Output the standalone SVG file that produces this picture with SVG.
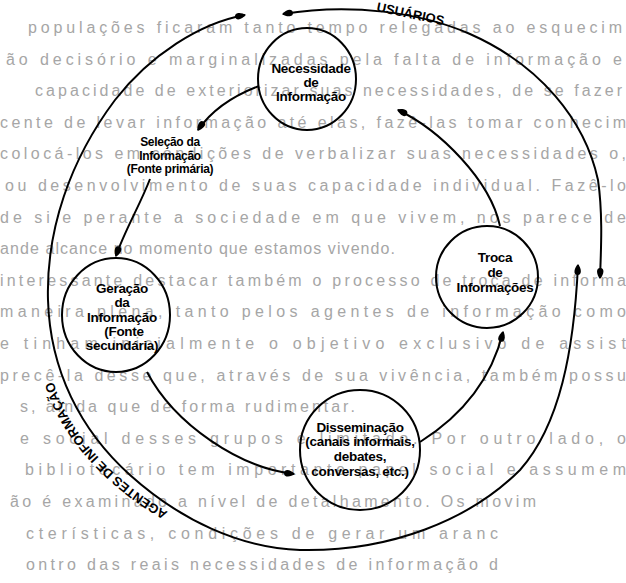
<svg xmlns="http://www.w3.org/2000/svg" width="626" height="583" viewBox="0 0 626 583">
<style>
.bg{font-family:"Liberation Sans",Arial,sans-serif;font-size:16px;fill:#a6a6a6}
.lbl{font-family:"Liberation Sans",Arial,sans-serif;font-size:13.5px;font-weight:bold;fill:#000;text-anchor:middle;letter-spacing:-0.3px}
.sm{font-size:12px}
.big{font-family:"Liberation Sans",Arial,sans-serif;font-size:13px;font-weight:bold;fill:#000}
.c{fill:none;stroke:#000;stroke-width:2}
.ln{fill:none;stroke:#000;stroke-width:2}
</style>
<defs>
<marker id="ah" viewBox="0 0 12 10" refX="11" refY="5" markerWidth="12" markerHeight="10" markerUnits="userSpaceOnUse" orient="auto-start-reverse"><path d="M12,5 C8,1.5 1,0 1,5 C1,10 8,8.5 12,5 Z" fill="#000"/></marker>
<path id="agPath" d="M168,512 C120,485 75,440 58,395 C48,368 44,350 44,330"/>
</defs>
<rect width="626" height="583" fill="#fff"/>
<g id="background-text">
<text class="bg" x="28" y="33" textLength="594" lengthAdjust="spacing">populações ficaram tanto tempo relegadas ao esquecim</text>
<text class="bg" x="6" y="65" textLength="616" lengthAdjust="spacing">ão decisório e marginalizadas pela falta de informação e</text>
<text class="bg" x="35" y="96" textLength="587" lengthAdjust="spacing">capacidade de exteriorizar suas necessidades, de se fazer</text>
<text class="bg" x="0" y="128" textLength="626" lengthAdjust="spacing">cente de levar informação até elas, fazê-las tomar conhecim</text>
<text class="bg" x="0" y="159" textLength="626" lengthAdjust="spacing">colocá-los em condições de verbalizar suas necessidades o,</text>
<text class="bg" x="5" y="191" textLength="621" lengthAdjust="spacing">ou desenvolvimento de suas capacidade individual. Fazê-lo</text>
<text class="bg" x="0" y="223" textLength="626" lengthAdjust="spacing">de si e perante a sociedade em que vivem, nos parece de</text>
<text class="bg" x="0" y="254" textLength="395" lengthAdjust="spacing">ande alcance no momento que estamos vivendo.</text>
<text class="bg" x="0" y="286" textLength="626" lengthAdjust="spacing">interessante destacar também o processo de troca de informa</text>
<text class="bg" x="0" y="317" textLength="626" lengthAdjust="spacing">maneira plena, tanto pelos agentes de informação como</text>
<text class="bg" x="0" y="349" textLength="626" lengthAdjust="spacing">e tinham inicialmente o objetivo exclusivo de assist</text>
<text class="bg" x="0" y="381" textLength="626" lengthAdjust="spacing">precê-la desse que, através de sua vivência, também possu</text>
<text class="bg" x="20" y="412" textLength="335" lengthAdjust="spacing">s, ainda que de forma rudimentar.</text>
<text class="bg" x="20" y="444" textLength="606" lengthAdjust="spacing">e social desses grupos é limitado. Por outro lado, o</text>
<text class="bg" x="25" y="475" textLength="601" lengthAdjust="spacing">bibliotecário tem importante papel social e assumem</text>
<text class="bg" x="10" y="507" textLength="526" lengthAdjust="spacing">ão é examinado a nível de detalhamento. Os movim</text>
<text class="bg" x="26" y="539" textLength="472" lengthAdjust="spacing">cterísticas, condições de gerar um aranc</text>
<text class="bg" x="26" y="570" textLength="472" lengthAdjust="spacing">ontro das reais necessidades de informação d</text>
</g>
<g id="connectors">
<path class="ln" d="M283,14 C350,3 420,12 470,34 C540,65 585,120 598,180 C603,215 601,250 600,278" marker-start="url(#ah)" marker-end="url(#ah)"/>
<path class="ln" d="M245,15 C200,23 150,55 115,100 C70,160 46,230 48,300 C50,370 80,430 130,475 C180,520 240,548 300,550 C390,552 470,520 520,470 C560,425 574,350 578,265" marker-start="url(#ah)" marker-end="url(#ah)"/>
<path class="ln" d="M259,86 C235,95 212,110 198,130" marker-end="url(#ah)"/>
<path class="ln" d="M150,179 C140,205 124,232 116,256" marker-end="url(#ah)"/>
<path class="ln" d="M147,372 C175,425 240,468 294,474" marker-end="url(#ah)"/>
<path class="ln" d="M420,442 C455,420 490,385 503,332" marker-end="url(#ah)"/>
<path class="ln" d="M500,226 C490,180 440,130 398,110" marker-end="url(#ah)"/>
</g>
<g id="usuarios-label"><text class="big" font-size="12.5" transform="translate(376,11) rotate(12)">USUÁRIOS</text></g>
<g id="agentes-label"><text class="big"><textPath href="#agPath">AGENTES DE INFORMAÇÃO</textPath></text></g>
<g id="necessidade">
<ellipse class="c" cx="307" cy="79" rx="49" ry="51"/>
<text class="lbl" x="311" y="73">Necessidade</text>
<text class="lbl" x="311" y="87">de</text>
<text class="lbl" x="311" y="101">Informação</text>
</g>
<g id="selecao">
<text class="lbl sm" x="170" y="146">Seleção da</text>
<text class="lbl sm" x="170" y="159.5">Informação</text>
<text class="lbl sm" x="170" y="173">(Fonte primária)</text>
</g>
<g id="geracao">
<ellipse class="c" cx="116" cy="315" rx="54" ry="57"/>
<text class="lbl" x="122" y="293">Geração</text>
<text class="lbl" x="122" y="307">da</text>
<text class="lbl" x="122" y="322">Informação</text>
<text class="lbl" x="124" y="336">(Fonte</text>
<text class="lbl" x="122" y="350">secundária)</text>
</g>
<g id="troca">
<ellipse class="c" cx="487" cy="277" rx="51" ry="51"/>
<text class="lbl" x="495" y="262">Troca</text>
<text class="lbl" x="495" y="277">de</text>
<text class="lbl" x="495" y="292">Informações</text>
</g>
<g id="disseminacao">
<ellipse class="c" cx="360" cy="450" rx="60" ry="60"/>
<text class="lbl" x="360" y="432">Disseminação</text>
<text class="lbl" x="360" y="446">(canais informais,</text>
<text class="lbl" x="360" y="461">debates,</text>
<text class="lbl" x="360" y="476">conversas, etc.)</text>
</g>
</svg>
